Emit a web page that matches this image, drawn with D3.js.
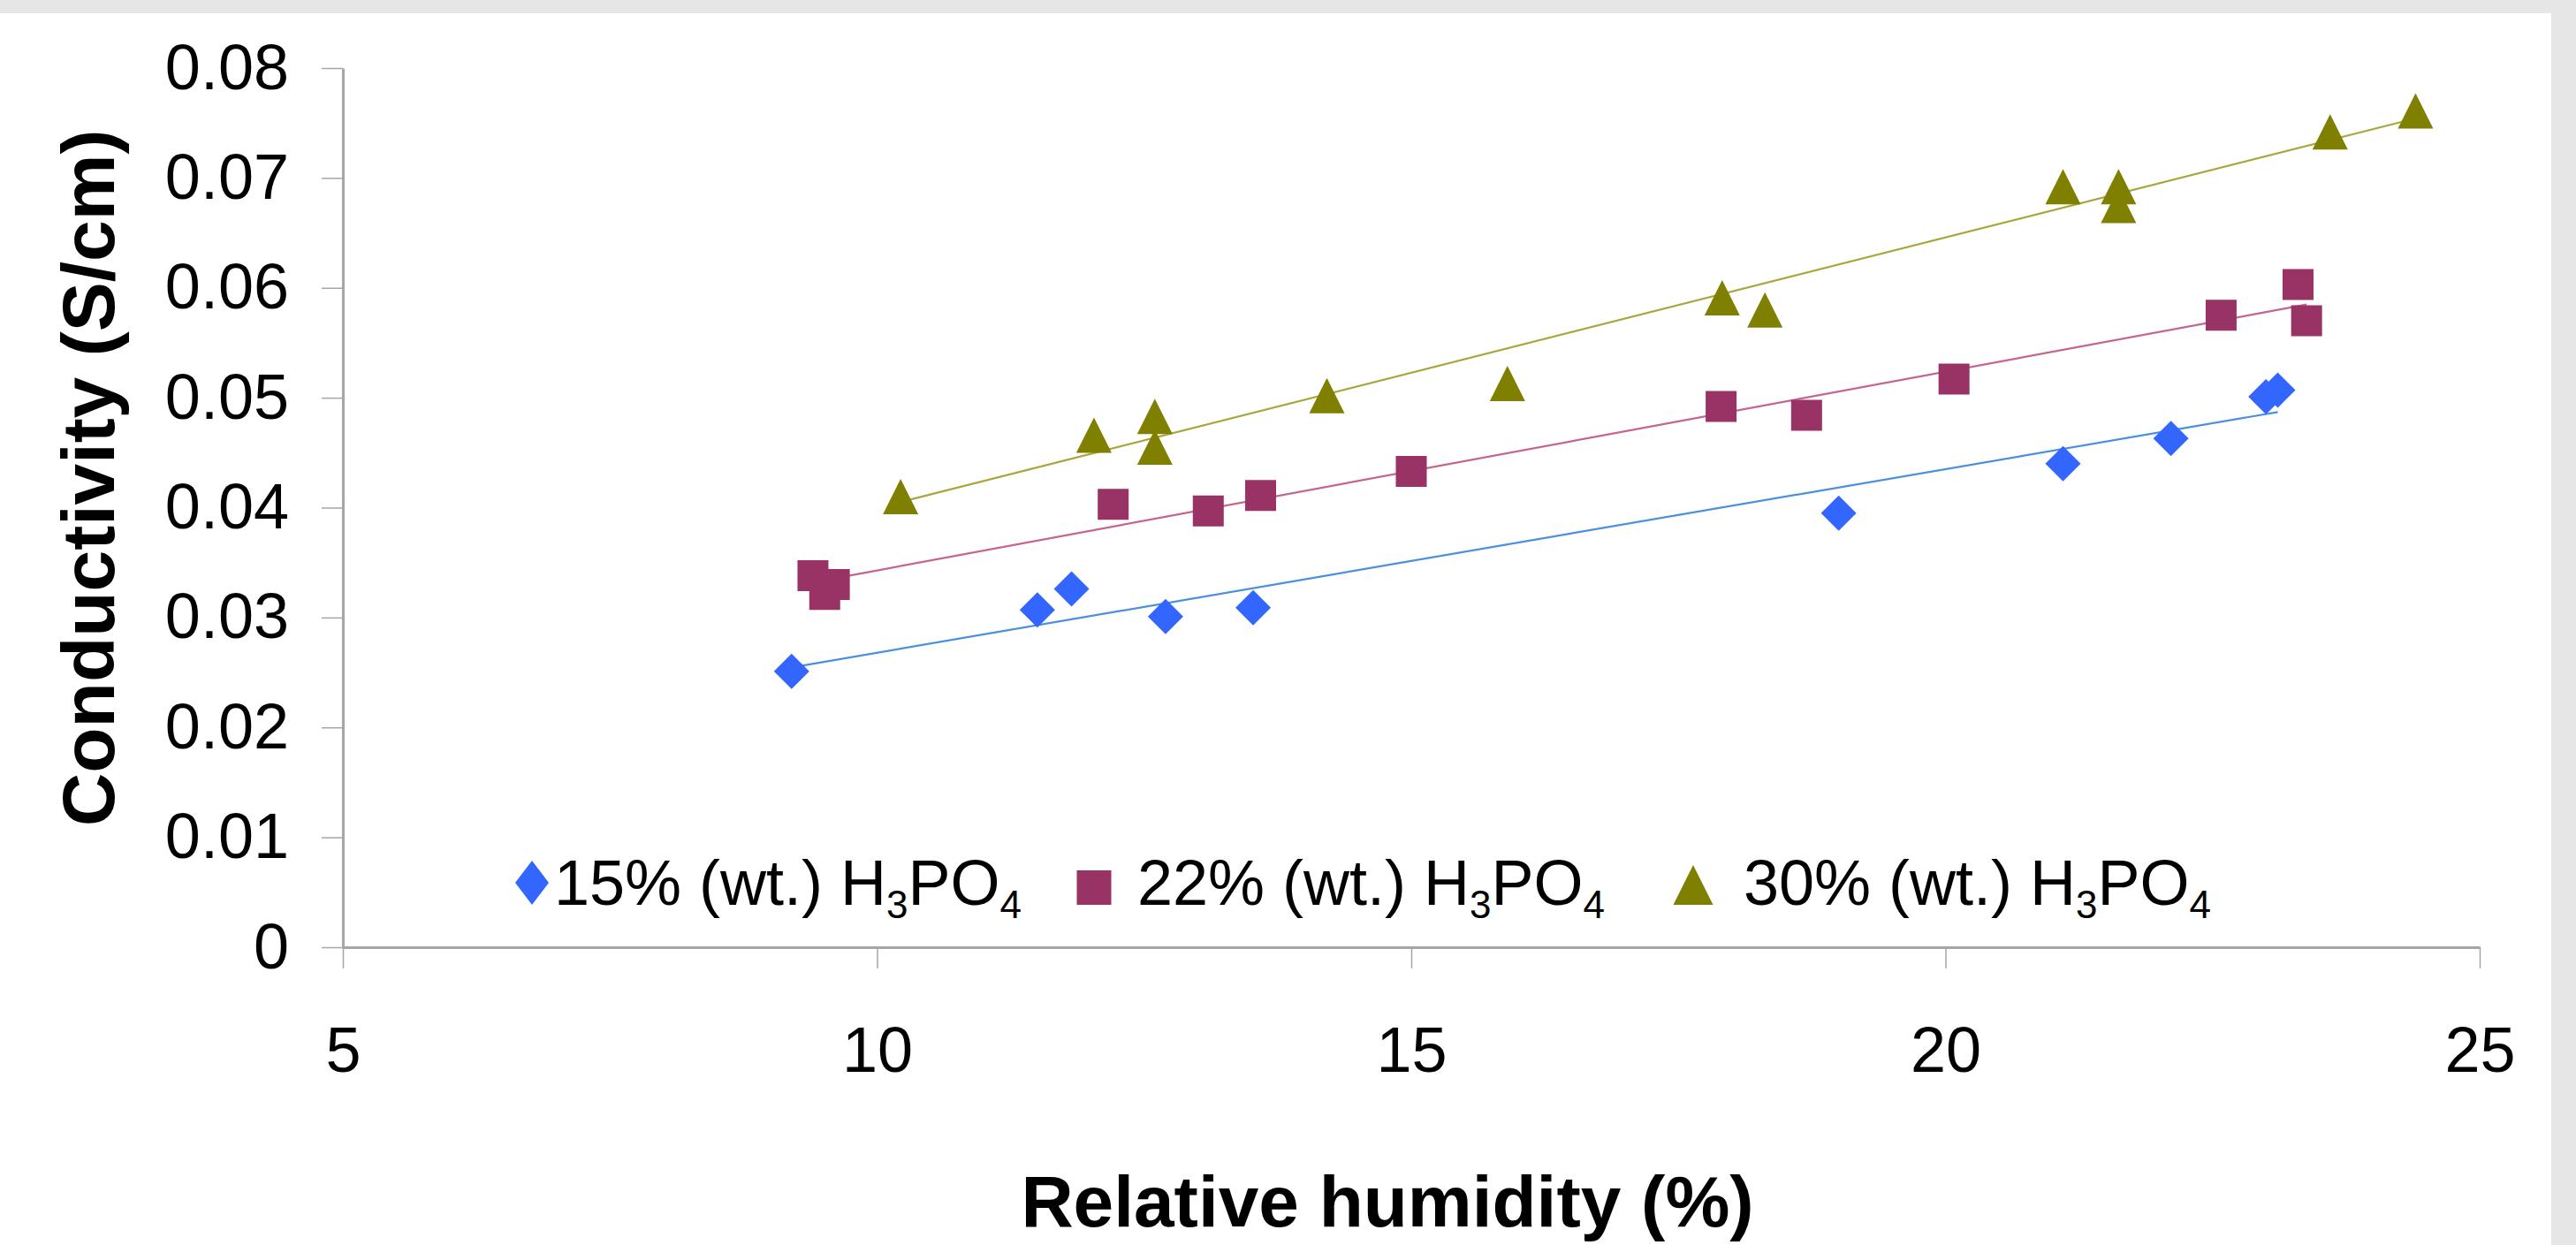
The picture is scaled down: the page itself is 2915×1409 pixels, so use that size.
<!DOCTYPE html>
<html>
<head>
<meta charset="utf-8">
<script src="https://cdn.jsdelivr.net/npm/d3@7"></script>
<style>
  body { margin: 0; background: #e6e6e6; }
  svg { display: block; font-family: "Liberation Sans", Arial, sans-serif; }
  .axis path, .axis line { stroke: #a6a6a6; }
  .axis text { fill: #000; font-size: 72px; font-family: "Liberation Sans", Arial, sans-serif; }
</style>
</head>
<body>
<div id="chart"></div>
<script>
// data
var rh15 = [9.2, 11.5, 11.82, 12.7, 13.52, 19.0, 21.1, 22.11, 23.0, 23.11];
var cond15 = [0.0251, 0.0307, 0.0326, 0.0301, 0.0309, 0.0395, 0.0440, 0.0463, 0.0501, 0.0507];

var rh22 = [9.4, 9.51, 9.6, 12.21, 13.1, 13.59, 15.0, 17.9, 18.7, 20.08, 22.58, 23.3, 23.38];
var cond22 = [0.0338, 0.0321, 0.0330, 0.0403, 0.0397, 0.0411, 0.0433, 0.0492, 0.0484, 0.0517, 0.0575, 0.0603, 0.0570];

var rh30 = [10.22, 12.03, 12.6, 12.6, 14.21, 15.9, 17.91, 18.31, 21.1, 21.62, 21.62, 23.6, 24.4];
var cond30 = [0.0410, 0.0466, 0.0483, 0.0455, 0.0502, 0.0513, 0.0591, 0.0580, 0.0692, 0.0692, 0.0675, 0.0742, 0.0761];

var seriesNames = ["15% (wt.) H", "22% (wt.) H", "30% (wt.) H"];
var xTicks = [5, 10, 15, 20, 25];
var yTicks = [0, 0.01, 0.02, 0.03, 0.04, 0.05, 0.06, 0.07, 0.08];

var series = [
    { name: seriesNames[0], x: rh15, y: cond15, shape: "diamond", color: "#3366ff", line: "#4a90dc" },
    { name: seriesNames[1], x: rh22, y: cond22, shape: "square", color: "#993366", line: "#c4648f" },
    { name: seriesNames[2], x: rh30, y: cond30, shape: "triangle", color: "#808000", line: "#aaa53c" }
];

var svgWidth = 2915;
var svgHeight = 1409;

var svg = d3.select("#chart")
    .append("svg")
    .attr("width", svgWidth)
    .attr("height", svgHeight);

// white chart area, gray band on top and right
svg.append("rect")
    .attr("x", 0)
    .attr("y", 15)
    .attr("width", 2887)
    .attr("height", svgHeight - 15)
    .attr("fill", "#fff");

var xScale = d3.scaleLinear().domain([5, 25]).range([388, 2806]);
var yScale = d3.scaleLinear().domain([0, 0.08]).range([1072, 77]);

// axes
var bottomAxis = d3.axisBottom(xScale).tickValues(xTicks).tickSize(24).tickSizeOuter(0).tickPadding(66);
var leftAxis = d3.axisLeft(yScale).tickValues(yTicks).tickSize(24).tickSizeOuter(0).tickPadding(37)
    .tickFormat(function(d) { return d === 0 ? "0" : d3.format(".2f")(d); });

var gx = svg.append("g")
    .attr("class", "axis")
    .attr("transform", "translate(0,1072)")
    .call(bottomAxis);
gx.select(".domain").attr("stroke-width", 3);
gx.selectAll(".tick line").attr("stroke-width", 1.5);

var gy = svg.append("g")
    .attr("class", "axis")
    .attr("transform", "translate(388,0)")
    .call(leftAxis);
gy.select(".domain").attr("stroke-width", 3);
gy.selectAll(".tick line").attr("stroke-width", 1.5);

// axis titles
svg.append("text")
    .attr("transform", "translate(129,541) rotate(-90)")
    .attr("text-anchor", "middle")
    .attr("font-size", 84)
    .attr("font-weight", "bold")
    .text("Conductivity (S/cm)");

svg.append("text")
    .attr("x", 1570)
    .attr("y", 1388)
    .attr("text-anchor", "middle")
    .attr("font-size", 82)
    .attr("font-weight", "bold")
    .text("Relative humidity (%)");

// marker path centered on 0,0
function shapePath(shape, w, h) {
    if (shape === "diamond") {
        return "M0," + (-h / 2) + "L" + (w / 2) + ",0L0," + (h / 2) + "L" + (-w / 2) + ",0Z";
    }
    if (shape === "square") {
        return "M" + (-w / 2) + "," + (-h / 2) + "h" + w + "v" + h + "h" + (-w) + "Z";
    }
    return "M0," + (-h / 2) + "L" + (w / 2) + "," + (h / 2) + "L" + (-w / 2) + "," + (h / 2) + "Z";
}
var markerSize = { diamond: [40, 40], square: [35, 35], triangle: [40, 40] };
var legendSize = { diamond: [38, 50], square: [39, 39], triangle: [45, 45] };

// least squares trend line for each series
series.forEach(function(s) {
    var pts = s.x.map(function(v, i) { return [v, s.y[i]]; });
    var mx = d3.mean(s.x), my = d3.mean(s.y);
    var sxy = d3.sum(pts, function(p) { return (p[0] - mx) * (p[1] - my); });
    var sxx = d3.sum(pts, function(p) { return (p[0] - mx) * (p[0] - mx); });
    var slope = sxy / sxx;
    var x0 = d3.min(s.x), x1 = d3.max(s.x);
    var ends = [[x0, my + slope * (x0 - mx)], [x1, my + slope * (x1 - mx)]];
    svg.append("path")
        .datum(ends)
        .attr("fill", "none")
        .attr("stroke", s.line)
        .attr("stroke-width", 2.2)
        .attr("d", d3.line().x(function(d) { return xScale(d[0]); }).y(function(d) { return yScale(d[1]); }));
});

// markers
series.forEach(function(s) {
    var pts = s.x.map(function(v, i) { return [v, s.y[i]]; });
    svg.append("g")
        .selectAll("path")
        .data(pts)
        .enter()
        .append("path")
        .attr("transform", function(d) { return "translate(" + xScale(d[0]) + "," + yScale(d[1]) + ")"; })
        .attr("d", shapePath(s.shape, markerSize[s.shape][0], markerSize[s.shape][1]))
        .attr("fill", s.color);
});

// legend
var legendX = [602, 1238, 1916];
var legendTextX = [627, 1287, 1973];
var legendBase = 1024;
series.forEach(function(s, i) {
    var sz = legendSize[s.shape];
    svg.append("path")
        .attr("transform", "translate(" + legendX[i] + "," + (legendBase - sz[1] / 2) + ")")
        .attr("d", shapePath(s.shape, sz[0], sz[1]))
        .attr("fill", s.color);
    var t = svg.append("text")
        .attr("x", legendTextX[i])
        .attr("y", legendBase)
        .attr("font-size", 72);
    t.append("tspan").text(s.name);
    t.append("tspan").attr("font-size", 44).attr("dy", 15).text("3");
    t.append("tspan").attr("dy", -15).text("PO");
    t.append("tspan").attr("font-size", 44).attr("dy", 15).text("4");
});
</script>
</body>
</html>
